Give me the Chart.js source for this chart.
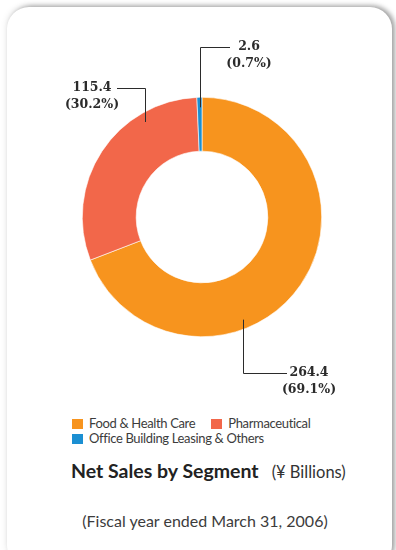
<!DOCTYPE html>
<html>
<head>
    <title>Net Sales by Segment</title>
    <script src="https://cdn.jsdelivr.net/npm/chart.js"></script>
    <style>
        body { margin: 0; background: #fff; width: 396px; height: 550px; overflow: hidden; position: relative; font-family: Lato, "Open Sans", sans-serif; }
        .card { position: absolute; left: 7px; top: 7px; width: 385px; height: 560px; background: #fff; border-radius: 22px;
                box-shadow: 3px -1px 5px rgba(0,0,0,0.35), -1px -2px 6px rgba(0,0,0,0.08); }
        .chart-box { position: absolute; left: 0; top: 0; width: 396px; height: 400px; }
        .legend { position: absolute; left: 72px; top: 416px; width: 270px; display: flex; flex-wrap: wrap; font-size: 13px; letter-spacing: -0.35px; color: #3c3c3c; line-height: 15px; }
        .legend span.item { display: inline-flex; align-items: center; margin-right: 16px; }
        .legend i { display: inline-block; width: 11px; height: 10px; margin-right: 6px; }
        .title { position: absolute; left: 71px; top: 459px; white-space: nowrap; color: #222; }
        .title b { font-size: 19.5px; }
        .title small { font-size: 16.5px; color: #333; margin-left: 13px; }
        .sub { position: absolute; left: 0; width: 410px; top: 511px; text-align: center; font-size: 16px; color: #3c3c3c; }
    </style>
</head>
<body>
    <div class="card"></div>
    <div class="chart-box"><canvas id="segChart"></canvas></div>
    <div class="legend" id="legend"></div>
    <div class="title"><b>Net Sales by Segment</b><small>(¥ Billions)</small></div>
    <div class="sub">(Fiscal year ended March 31, 2006)</div>

    <script>
        // Segment data (¥ billions)
        const segments = ['Food & Health Care', 'Pharmaceutical', 'Office Building Leasing & Others'];
        const sales = [264.4, 115.4, 2.6];
        const colors = ['#F7941E', '#F2674A', '#1B8FD2'];

        // Callout layout: offset of the vertical leader from the centre,
        // elbow height, end of the horizontal leader and text centre
        const callouts = [
            { index: 0, dx: 40.5, elbowY: 373, endX: 287, textX: 309 },
            { index: 1, dx: -57.5, elbowY: 88, endX: 117, textX: 92 },
            { index: 2, dx: -2.5, elbowY: 47, endX: 230, textX: 249 }
        ];

        const total = sales.reduce((a, b) => a + b, 0);

        // legend built from the same arrays
        const legendEl = document.getElementById('legend');
        segments.forEach((name, i) => {
            const item = document.createElement('span');
            item.className = 'item';
            item.innerHTML = '<i style="background:' + colors[i] + '"></i>';
            item.appendChild(document.createTextNode(name));
            legendEl.appendChild(item);
        });

        const calloutPlugin = {
            id: 'callouts',
            afterDatasetsDraw(chart) {
                const ctx = chart.ctx;
                const arcs = chart.getDatasetMeta(0).data;
                ctx.save();
                ctx.strokeStyle = '#2b2b2b';
                ctx.lineWidth = 1;
                ctx.fillStyle = '#2b2b2b';
                ctx.font = 'bold 12.5px "DejaVu Serif"';
                ctx.textAlign = 'center';
                ctx.textBaseline = 'middle';
                callouts.forEach(c => {
                    const arc = arcs[c.index];
                    const x = Math.round(arc.x + c.dx) + 0.5;
                    const reach = Math.sqrt(arc.outerRadius * arc.outerRadius - c.dx * c.dx) - 10;
                    const anchorY = c.elbowY > arc.y ? arc.y + reach : arc.y - reach;
                    ctx.beginPath();
                    ctx.moveTo(x, anchorY);
                    ctx.lineTo(x, c.elbowY + 0.5);
                    ctx.lineTo(c.endX, c.elbowY + 0.5);
                    ctx.stroke();
                    const v = sales[c.index];
                    ctx.fillText(v.toFixed(1), c.textX, c.elbowY);
                    ctx.fillText('(' + (v / total * 100).toFixed(1) + '%)', c.textX, c.elbowY + 17);
                });
                ctx.restore();
            }
        };

        new Chart(document.getElementById('segChart'), {
            type: 'doughnut',
            data: {
                labels: segments,
                datasets: [{
                    data: sales,
                    backgroundColor: colors,
                    borderColor: '#ffffff',
                    borderWidth: 0.6,
                    hoverOffset: 0
                }]
            },
            options: {
                responsive: true,
                maintainAspectRatio: false,
                animation: false,
                cutout: '55%',
                layout: { padding: { left: 82, right: 74, top: 97, bottom: 63 } },
                plugins: {
                    legend: { display: false },
                    tooltip: { enabled: false }
                }
            },
            plugins: [calloutPlugin]
        });
    </script>
</body>
</html>
